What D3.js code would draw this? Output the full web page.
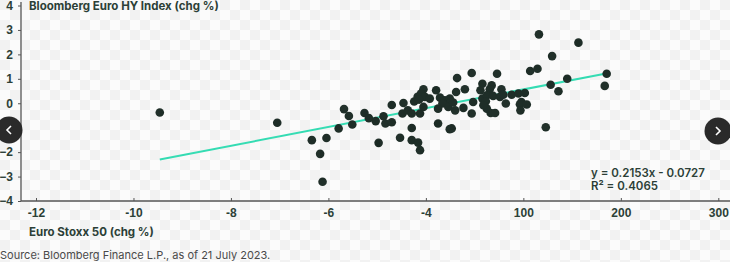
<!DOCTYPE html>
<html>
<head>
<meta charset="utf-8">
<script src="https://cdn.jsdelivr.net/npm/d3@7/dist/d3.min.js"></script>
<style>
  html, body { margin: 0; padding: 0; background: #fff; }
  svg { display: block; font-family: "Inter", "Open Sans", sans-serif; }
</style>
</head>
<body>
<svg id="drawingSpace" width="730" height="262"></svg>
<script>
//chart data
var xTicks = [-12, -10, -8, -6, -4, -2, 0, 2],
    xTickLabels = ["-12", "-10", "-8", "-6", "-4", "100", "200", "300"],
    yTicks = [-4, -3, -2, -1, 0, 1, 2, 3, 4];

var stoxx = [-9.46, -7.05, -6.34, -6.17, -6.12, -6.04, -5.79, -5.68, -5.58, -5.51,
    -5.26, -5.17, -5.03, -4.97, -4.87, -4.83, -4.70, -4.70, -4.46, -4.48,
    -4.37, -4.29, -4.24, -4.17, -4.29, -4.53, -4.29, -4.16, -4.12, -4.12,
    -4.05, -3.79, -4.10, -4.02, -3.92, -4.14, -3.71, -3.61, -3.51, -3.49,
    -3.66, -4.05, -3.75, -3.54, -3.40, -3.75, -3.51, -3.36, -3.06, -2.54,
    -3.20, -3.38, -2.84, -2.65, -2.88, -2.69, -2.45, -2.84, -2.75, -2.62,
    -2.48, -2.41, -2.24, -2.10, -1.97, -3.44, -3.03, -2.77, -2.36, -2.04,
    -2.07, -1.93, -3.23, -2.75, -2.82, -3.06, -2.67, -2.58, -2.06, -3.47,
    -1.86, -1.71, -1.68, -0.87, -1.41, -0.29, -0.33, -1.10, -1.44, -1.28,
    -1.54];
var hy = [-0.38, -0.80, -1.51, -2.07, -3.21, -1.42, -1.03, -0.24, -0.52, -0.87,
    -0.40, -0.61, -0.73, -1.62, -0.53, -0.83, -0.78, -0.07, 0.01, -0.42,
    -0.29, -0.42, 0.07, 0.26, -1.01, -1.41, -1.51, -1.61, -1.92, -0.42,
    0.57, 0.53, 0.40, 0.26, 0.19, 0.15, 0.23, 0.12, 0.19, 0.05,
    -0.01, -0.15, -0.22, -0.15, -0.29, -0.83, -1.06, 1.03, 1.24, 1.21,
    0.57, 0.46, 0.80, 0.73, 0.53, 0.57, 0.57, 0.19, 0.33, 0.30,
    0.26, 0.35, 0.35, 0.40, 0.42, 0.03, 0.05, 0.08, -0.01, 0.05,
    -0.04, -0.05, -0.19, -0.22, -0.08, -0.42, -0.40, -0.40, -0.29, -1.03,
    1.32, 1.41, 2.82, 2.48, 1.93, 1.21, 0.71, 1.00, 0.76, 0.49,
    -0.98];

//trend line end points
var trendX = [-9.46, -0.30],
    trendY = [-2.30, 1.22];

var equation = ["y = 0.2153x - 0.0727", "R\u00b2 = 0.4065"];

var svg = d3.select("#drawingSpace"),
    width = +svg.attr("width"),
    height = +svg.attr("height"),
    ink = "#2c3f37";

//faint checker background like the reference
var pat = svg.append("defs").append("pattern")
    .attr("id", "checker").attr("width", 20).attr("height", 20)
    .attr("patternUnits", "userSpaceOnUse");
pat.append("rect").attr("width", 20).attr("height", 20).attr("fill", "#fbfbfb");
pat.append("rect").attr("width", 10).attr("height", 10).attr("fill", "#f2f2f2");
pat.append("rect").attr("x", 10).attr("y", 10).attr("width", 10).attr("height", 10).attr("fill", "#f2f2f2");
svg.append("rect").attr("width", width).attr("height", height).attr("fill", "url(#checker)");

var x = d3.scaleLinear().domain([-12, 2]).range([36, 718.3]),
    y = d3.scaleLinear().domain([-4, 4]).range([201, 5.5]);

var axisX0 = 21, axisY0 = 201;

//axes lines
svg.append("line").attr("x1", axisX0).attr("x2", axisX0).attr("y1", 2).attr("y2", axisY0)
    .attr("stroke", "#555").attr("stroke-width", 1.3);
svg.append("line").attr("x1", axisX0).attr("x2", width).attr("y1", axisY0).attr("y2", axisY0)
    .attr("stroke", "#555").attr("stroke-width", 1.3);

//y axis ticks
var yAxis = svg.append("g").attr("transform", "translate(" + axisX0 + ",0)")
    .call(d3.axisLeft(y).tickValues(yTicks).tickSize(3).tickPadding(5).tickFormat(d3.format("d")));
yAxis.select(".domain").remove();
yAxis.selectAll("line").attr("stroke", "#555");
yAxis.selectAll("text").attr("fill", ink).style("font-size", "12px").style("font-weight", 600)
    .attr("font-family", null);

//x axis ticks (pointing up)
var xAxis = svg.append("g").attr("transform", "translate(0," + axisY0 + ")")
    .call(d3.axisBottom(x).tickValues(xTicks).tickSizeInner(-3).tickSizeOuter(0).tickPadding(7)
        .tickFormat(function (d, i) { return xTickLabels[i]; }));
xAxis.select(".domain").remove();
xAxis.selectAll("line").attr("stroke", "#555");
xAxis.selectAll("text").attr("fill", ink).style("font-size", "12px").style("font-weight", 600)
    .attr("font-family", null);

//axis titles
svg.append("text").attr("x", 29).attr("y", 10).text("Bloomberg Euro HY Index (chg %)")
    .attr("fill", ink).style("font-size", "11.5px").style("font-weight", 700);
svg.append("text").attr("x", 29).attr("y", 236).text("Euro Stoxx 50 (chg %)")
    .attr("fill", ink).style("font-size", "11.5px").style("font-weight", 700);
svg.append("text").attr("x", 0).attr("y", 259).text("Source: Bloomberg Finance L.P., as of 21 July 2023.")
    .attr("fill", "#4a4a4a").style("font-size", "11px");

//trend line
svg.append("line")
    .attr("x1", x(trendX[0])).attr("y1", y(trendY[0]))
    .attr("x2", x(trendX[1])).attr("y2", y(trendY[1]))
    .attr("stroke", "#35dcb3").attr("stroke-width", 2);

//scatter points
svg.append("g").selectAll("circle")
    .data(d3.zip(stoxx, hy))
    .enter().append("circle")
    .attr("cx", function (d) { return x(d[0]); })
    .attr("cy", function (d) { return y(d[1]); })
    .attr("r", 4.3)
    .attr("fill", "#1f2e28");

//regression equation
svg.append("g").selectAll("text")
    .data(equation)
    .enter().append("text")
    .attr("x", 591)
    .attr("y", function (d, i) { return 177 + i * 13; })
    .text(function (d) { return d; })
    .attr("fill", ink).style("font-size", "11.5px").style("font-weight", 600);

//carousel buttons on the page
var nav = [{cx: 9, cy: 130, dir: -1}, {cx: 718, cy: 131, dir: 1}];
var btn = svg.append("g").selectAll("g").data(nav).enter().append("g")
    .attr("transform", function (d) { return "translate(" + d.cx + "," + d.cy + ")"; });
btn.append("circle").attr("r", 13.5).attr("fill", "#2a2a2a");
btn.append("path")
    .attr("d", function (d) { return "M" + (-2 * d.dir) + ",-4L" + (2 * d.dir) + ",0L" + (-2 * d.dir) + ",4"; })
    .attr("fill", "none").attr("stroke", "#fff").attr("stroke-width", 1.6);
</script>
</body>
</html>
